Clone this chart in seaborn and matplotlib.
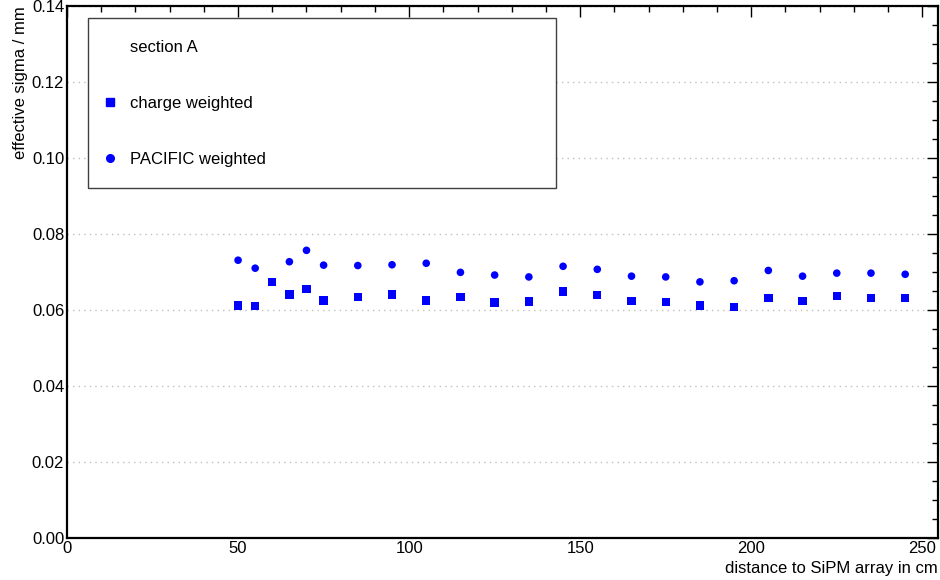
import numpy as np
import pandas as pd
import matplotlib
matplotlib.use("Agg")
import matplotlib.pyplot as plt
from matplotlib.lines import Line2D
from matplotlib.ticker import MultipleLocator
import seaborn as sns

# distance to SiPM array (cm)
dist_charge = [50, 55, 60, 65, 70, 75, 85, 95, 105, 115, 125, 135, 145,
               155, 165, 175, 185, 195, 205, 215, 225, 235, 245]
sigma_charge = [0.0612, 0.0611, 0.0674, 0.0641, 0.0655, 0.0625, 0.0635, 0.0641,
                0.0625, 0.0634, 0.0620, 0.0622, 0.0649, 0.0639, 0.0623, 0.0621,
                0.0612, 0.0607, 0.0632, 0.0623, 0.0636, 0.0632, 0.0632]

dist_pacific = [50, 55, 65, 70, 75, 85, 95, 105, 115, 125, 135, 145,
                155, 165, 175, 185, 195, 205, 215, 225, 235, 245]
sigma_pacific = [0.0731, 0.0710, 0.0727, 0.0757, 0.0718, 0.0717, 0.0719, 0.0723,
                 0.0699, 0.0692, 0.0687, 0.0715, 0.0707, 0.0689, 0.0687, 0.0674,
                 0.0677, 0.0704, 0.0689, 0.0697, 0.0697, 0.0694]

df_c = pd.DataFrame({"dist": dist_charge, "sigma": sigma_charge})
df_p = pd.DataFrame({"dist": dist_pacific, "sigma": sigma_pacific})

sns.set_style("white")
plt.rcParams["font.family"] = ["Liberation Sans", "DejaVu Sans"]
plt.rcParams["text.color"] = "black"
plt.rcParams["axes.labelcolor"] = "black"

fig = plt.figure(figsize=(9.4, 5.8), dpi=100)
ax = fig.add_axes([0.0713, 0.0724, 0.9266, 0.9173])

sns.scatterplot(data=df_c, x="dist", y="sigma", marker="s", s=36, color="#0000ff",
                edgecolor="none", ax=ax, zorder=3)
sns.scatterplot(data=df_p, x="dist", y="sigma", marker="o", s=30, color="#0000ff",
                edgecolor="none", ax=ax, zorder=3)

ax.set_xlim(0, 254.6)
ax.set_ylim(0, 0.14)
ax.xaxis.set_major_locator(MultipleLocator(50))
ax.xaxis.set_minor_locator(MultipleLocator(10))
ax.yaxis.set_major_locator(MultipleLocator(0.02))
ax.yaxis.set_minor_locator(MultipleLocator(0.005))
ax.yaxis.set_major_formatter(matplotlib.ticker.FormatStrFormatter("%.2f"))
ax.tick_params(which="both", direction="in", top=True, right=True, colors="black",
               labelsize=12, pad=2)
ax.tick_params(which="major", length=8, width=1)
ax.tick_params(which="minor", length=4, width=1)
ax.yaxis.grid(True, which="major", linestyle=(0, (1, 3)), color="#c0c0c0", linewidth=1)
ax.xaxis.grid(False)
for sp in ax.spines.values():
    sp.set_color("black")
    sp.set_linewidth(1.6)

ax.set_xlabel("distance to SiPM array in cm", fontsize=12, loc="right", labelpad=4)
ax.set_ylabel("effective sigma / mm", fontsize=12, loc="top", labelpad=3)

handles = [
    Line2D([], [], linestyle="none", marker=None),
    Line2D([], [], linestyle="none", marker="s", color="#0000ff", markersize=6),
    Line2D([], [], linestyle="none", marker="o", color="#0000ff", markersize=5.5),
]
labels = ["section A", "charge weighted", "PACIFIC weighted"]
leg = ax.legend(handles, labels, loc="upper left", bbox_to_anchor=(0.024, 0.977, 0.537, 0.0),
                mode="expand", fontsize=12, frameon=True, fancybox=False, framealpha=1,
                edgecolor="#404040", labelspacing=2.45, borderpad=1.3, handlelength=0.0,
                handletextpad=1.2, borderaxespad=0)
leg.get_frame().set_linewidth(1.0)

fig.savefig("out.png", dpi=100)
